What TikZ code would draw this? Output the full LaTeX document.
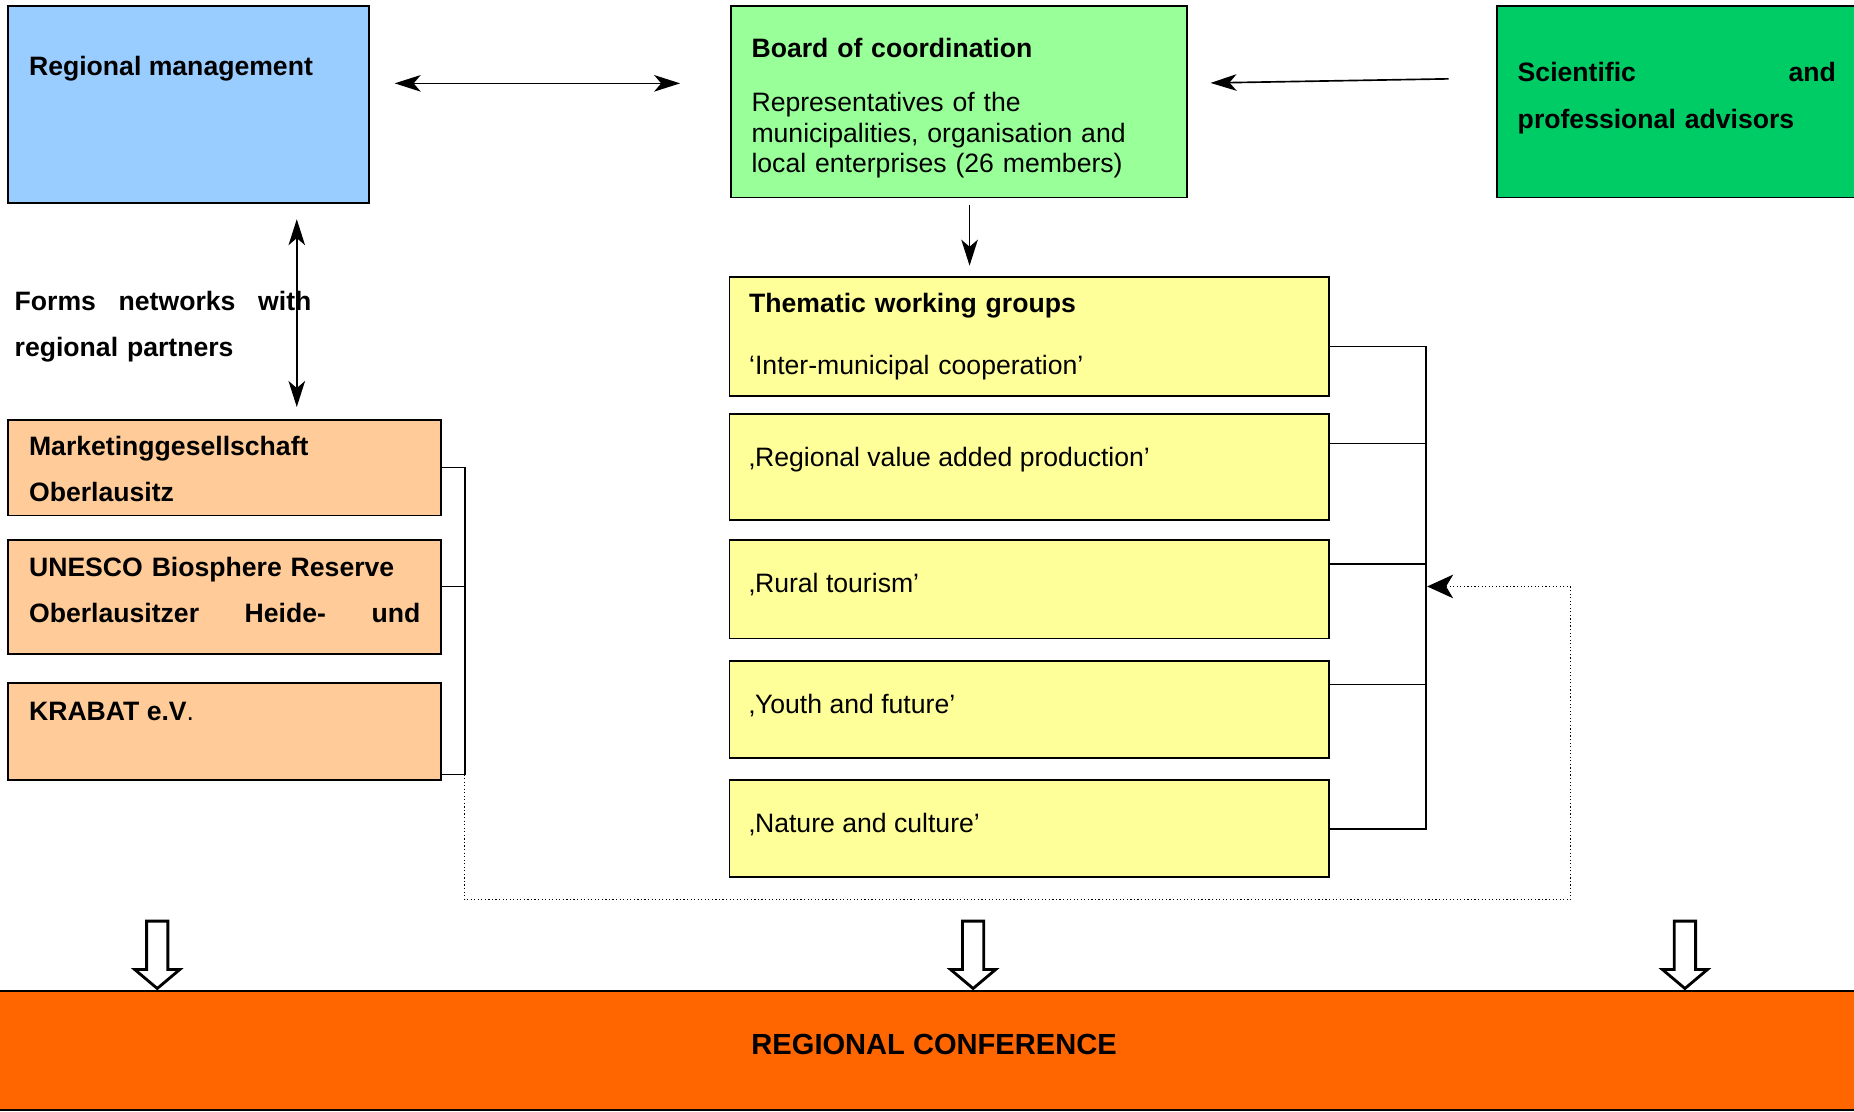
\documentclass[tikz,border=0pt]{standalone}
\usepackage{fontspec}
\setmainfont{Liberation Sans}
\usetikzlibrary{arrows.meta, positioning, calc}
\definecolor{rmblue}{HTML}{99CCFF}
\definecolor{bcgreen}{HTML}{99FF99}
\definecolor{sagreen}{HTML}{00CC66}
\definecolor{twyellow}{HTML}{FFFF99}
\definecolor{ptorange}{HTML}{FFCC99}
\definecolor{rcorange}{HTML}{FF6600}
\tikzset{%
  box/.style={draw=black, line width=0.8pt, rectangle, inner sep=0pt},
  txt/.style={anchor=base west, inner sep=0pt, align=left, font=\fontsize{11.25}{12.75}\selectfont},
  btxt/.style={txt, font=\fontsize{11.25}{19.5}\selectfont\bfseries},
  edge/.style={line width=0.7pt},
  move/.style={edge, -{Stealth[length=11pt, width=7pt, inset=3pt]}},
  twoway/.style={edge, {Stealth[length=11pt, width=7pt, inset=3pt]}-{Stealth[length=11pt, width=7pt, inset=3pt]}},
  feedback/.style={line width=0.5pt, densely dotted, -{Stealth[length=11pt, width=10pt, inset=3pt]}},
  bigdown/.style={draw=black, line width=1.2pt, fill=white, line join=miter}
}
\begin{document}
\begin{tikzpicture}[x=0.5pt, y=-0.5pt]
  \useasboundingbox (0,0) rectangle (1568,940);

  \node[box, fill=rmblue, minimum width=152.5pt, minimum height=83.5pt] (rm) at (159.5,88.5) {};
  \node[box, fill=bcgreen, minimum width=193pt, minimum height=81pt] (bc) at (811,86) {};
  \node[box, fill=sagreen, minimum width=170pt, minimum height=81pt] (sa) at (1436,86) {};

  \node[btxt] at ([shift={(18,59.5)}]rm.north west) {Regional management};
  \node[txt, text width=180pt] at ([shift={(18,44.5)}]bc.north west)
    {\textbf{Board of coordination}\\[10.25pt]Representatives of the\\municipalities, organisation and\\local enterprises (26 members)};
  \node[btxt, text width=134.5pt, font=\fontsize{11.25}{20}\selectfont\bfseries] at ([shift={(18,64.5)}]sa.north west)
    {Scientific\hfill and\\professional advisors};

  \node[box, fill=twyellow, minimum width=253.5pt, minimum height=50.5pt] (tw0) at (870.5,284.5) {};
  \node[box, fill=twyellow, minimum width=253.5pt, minimum height=45pt] (tw1) at (870.5,395) {};
  \node[box, fill=twyellow, minimum width=253.5pt, minimum height=41.5pt] (tw2) at (870.5,498.5) {};
  \node[box, fill=twyellow, minimum width=253.5pt, minimum height=41pt] (tw3) at (870.5,600) {};
  \node[box, fill=twyellow, minimum width=253.5pt, minimum height=41pt] (tw4) at (870.5,701) {};

  \node[txt, text width=230pt] at ([shift={(17,31)}]tw0.north west)
    {\textbf{Thematic working groups}\\[13.5pt]‘Inter-municipal cooperation’};
  \node[txt] at ([shift={(17,45)}]tw1.north west) {‚Regional value added production’};
  \node[txt] at ([shift={(17,45)}]tw2.north west) {‚Rural tourism’};
  \node[txt] at ([shift={(17,45)}]tw3.north west) {‚Youth and future’};
  \node[txt] at ([shift={(17,45)}]tw4.north west) {‚Nature and culture’};

  \node[box, fill=ptorange, minimum width=183pt, minimum height=40.5pt] (mg) at (190,395.5) {};
  \node[box, fill=ptorange, minimum width=183pt, minimum height=48pt] (ub) at (190,505) {};
  \node[box, fill=ptorange, minimum width=183pt, minimum height=41pt] (kr) at (190,619) {};

  \node[btxt, text width=165.5pt] at ([shift={(18,31)}]mg.north west) {Marketinggesellschaft\\Oberlausitz};
  \node[btxt, text width=165.5pt] at ([shift={(18,31)}]ub.north west)
    {UNESCO Biosphere Reserve\\Oberlausitzer\hfill Heide-\hfill und};
  \node[txt] at ([shift={(18,32)}]kr.north west) {\textbf{KRABAT e.V}.};

  \node[btxt, text width=125.5pt] (fn) at (12,262.5) {Forms\hfill networks\hfill with\\regional partners};

  \node[box, fill=rcorange, minimum width=820pt, minimum height=50.5pt, text depth=5.5pt,
        font=\fontsize{12.3}{14}\selectfont\bfseries] (rc) at (790,888.5) {REGIONAL CONFERENCE};

  \draw[twoway, shorten <=10.5pt, shorten >=21pt] ([yshift=9pt]rm.east) -- ([yshift=9pt]rm.east -| bc.west);
  \draw[move, shorten <=20pt, shorten >=9.5pt] ([yshift=10pt]sa.west) -- ([yshift=7.75pt]bc.east);
  \draw[move, shorten <=2.75pt, shorten >=4.25pt] ([xshift=4.5pt]bc.south) -- ([xshift=4.5pt]bc.south |- tw0.north);
  \draw[twoway, shorten <=6.3pt, shorten >=5pt] ([xshift=45.75pt]rm.south) -- ([xshift=45.75pt]rm.south |- mg.north);

  \coordinate (ls) at (393,655);
  \draw[edge] (mg.east) -| (ls) -- (ls -| kr.east);
  \draw[edge] ([yshift=4.5pt]ub.east) -- ([yshift=4.5pt]ub.east -| ls);

  \coordinate (rs) at (1206,701);
  \draw[edge] ([yshift=-4.25pt]tw0.east) -| (rs) -- (tw4.east);
  \foreach \g/\s in {tw1/10pt, tw2/10.75pt, tw3/10.5pt}
    \draw[edge] ([yshift=\s]\g.east) -- ([yshift=\s]\g.east -| rs);

  \coordinate (fb) at (1328,761);
  \coordinate (fin) at (1207,496);
  \draw[feedback] (ls) |- (fb) |- (fin);

  \foreach \x in {133,823,1425}
    \draw[bigdown] (\x-9,779) -- (\x+9,779) -- (\x+9,820) -- (\x+19,820) -- (\x,836)
      -- (\x-19,820) -- (\x-9,820) -- cycle;
\end{tikzpicture}
\end{document}
